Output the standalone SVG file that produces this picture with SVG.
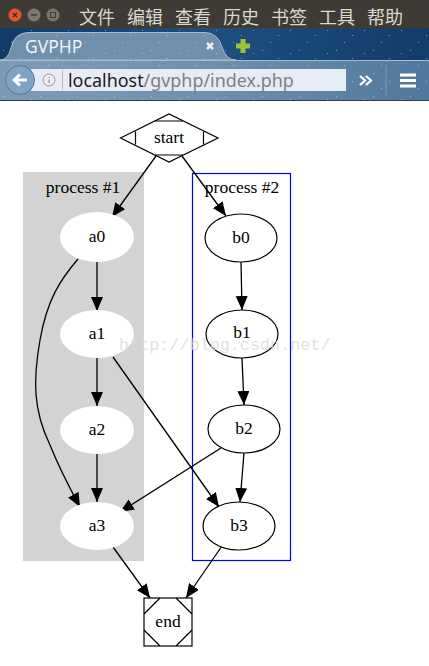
<svg xmlns="http://www.w3.org/2000/svg" width="429" height="666" viewBox="0 0 429 666">
<style>
.g{font-family:"Liberation Serif","Times New Roman",serif;font-size:17.500px;fill:#000;text-anchor:middle}
.n{fill:#fff;stroke:#000;stroke-width:1.200}
.w{fill:#fff;stroke:none}
.s{fill:none;stroke:#000;stroke-width:1.200}
.e{fill:none;stroke:#000;stroke-width:1.300;marker-end:url(#ah)}
.m{font-family:"Noto Sans CJK SC","Noto Sans",sans-serif;font-size:18px;fill:#ded8cc}
</style>
<defs>
<marker id="ah" markerUnits="userSpaceOnUse" markerWidth="15" markerHeight="13" refX="14" refY="6" orient="auto"><path d="M0 0L14 6L0 12Z" fill="#000"/></marker>
<linearGradient id="bg" x1="0" y1="0" x2="1" y2="0"><stop offset="0" stop-color="#123a66"/><stop offset=".5" stop-color="#1d4f80"/><stop offset="1" stop-color="#123c69"/></linearGradient>
<linearGradient id="tb" x1="0" y1="0" x2="1" y2="0"><stop offset="0" stop-color="#7e9bb6"/><stop offset=".5" stop-color="#6c90b0"/><stop offset="1" stop-color="#50789c"/></linearGradient>
<pattern id="stars" width="37" height="23" patternUnits="userSpaceOnUse"><path d="M3 4h1v1h-1zM19 12h1v1h-1zM31 7h1v1h-1zM11 19h1v1h-1z" fill="#d5e3f0" opacity=".55"/></pattern>
</defs>
<rect width="429" height="666" fill="#fff"/>
<g id="browser">
<rect width="429" height="28" fill="#3e3b36"/>
<rect y="28" width="429" height="33" fill="url(#bg)"/>
<path d="M0 60Q8 60 11 48Q14 33 28 32.500L205 32.500Q218 33 222 47Q226 60 236 60Z" fill="#6f8fac" stroke="#a9bccd" stroke-width="1"/>
<rect y="60" width="429" height="40" fill="url(#tb)"/>
<rect y="28" width="429" height="72" fill="url(#stars)"/>
<path d="M0 60.500H429" stroke="#a9bccd"/>
<rect y="100" width="429" height="1" fill="#2b3f52"/>
<circle cx="15" cy="15" r="6.500" fill="#e2562a"/><circle cx="34" cy="15" r="6.500" fill="#7b7870"/><circle cx="53" cy="15" r="6.500" fill="#77746c"/>
<path d="M13 13L17 17M17 13L13 17" stroke="#3e2a20" stroke-width="1.200"/>
<path d="M31 15H37" stroke="#3e3b36" stroke-width="1.500"/>
<rect x="50.500" y="12.500" width="5" height="5" fill="none" stroke="#3e3b36"/>
<text class="m" x="79" y="24">文件</text><text class="m" x="127" y="24">编辑</text><text class="m" x="175" y="24">查看</text><text class="m" x="223" y="24">历史</text><text class="m" x="271" y="24">书签</text><text class="m" x="319" y="24">工具</text><text class="m" x="367" y="24">帮助</text>
<text x="25" y="53" font-family="Noto Sans,sans-serif" font-size="17.500" fill="#f2f2f2">GVPHP</text>
<path d="M207 43L213 49M213 43L207 49" stroke="#eee" stroke-width="2.500"/>
<path d="M243 39V53M236 46H250" stroke="#9fc13a" stroke-width="5"/>
<rect x="31" y="69" width="315" height="22" fill="#e6ecf2"/>
<circle cx="20" cy="80" r="14.500" fill="#7fa3c0" stroke="#54799a"/>
<path d="M27 80H15M20 74.500L14 80L20 85.500" fill="none" stroke="#fff" stroke-width="3"/>
<circle cx="49" cy="80" r="6" fill="none" stroke="#9a9a9a"/>
<path d="M49 77V78M49 79.500V83" stroke="#9a9a9a" stroke-width="1.300"/>
<path d="M62.500 70V90" stroke="#bbb"/>
<text x="68" y="87" font-family="Noto Sans,sans-serif" font-size="17.900"><tspan fill="#1c1c1c">localhost</tspan><tspan fill="#7f7f7f">/gvphp/index.php</tspan></text>
<path d="M360 76L365 80.500L360 85M366 76L371 80.500L366 85" fill="none" stroke="#fff" stroke-width="2.300"/>
<path d="M386 65V95" stroke="#7f9db7"/>
<path d="M400 75H416M400 80.500H416M400 86H416" stroke="#fff" stroke-width="3"/>
</g>
<g id="cluster1"><rect x="23" y="172" width="121" height="389" fill="#d3d3d3"/><text class="g" x="83" y="193">process #1</text></g>
<g id="cluster2"><rect x="192.500" y="173.500" width="98" height="387" fill="none" stroke="#0000ff" stroke-width="1.200"/><text class="g" x="242" y="193">process #2</text></g>
<g id="connectors">
<path class="e" d="M156 156L112 217"/>
<path class="e" d="M182 156L226 216"/>
<path class="e" d="M97 262V311"/>
<path class="e" d="M97 358V406"/>
<path class="e" d="M97 454V502"/>
<path class="e" d="M78 259C60 280 47 300 40 340C33 380 33 410 50 445C58 465 68 485 80 507"/>
<path class="e" d="M113 357L219 507"/>
<path class="e" d="M241 262L242 310"/>
<path class="e" d="M242 358L244 405"/>
<path class="e" d="M244 453L240 502"/>
<path class="e" d="M221 448L120 512"/>
<path class="e" d="M113 547L150 598"/>
<path class="e" d="M222 546L186 598"/>
</g>
<g id="start"><path class="n" d="M120.500 138L169 114L218 138L169 162Z"/><path class="s" d="M155 121H183M135.500 131.500V144.500M203.500 131.500V144.500M155 155H183"/><text class="g" x="169" y="143">start</text></g>
<g id="a0"><ellipse class="w" cx="97" cy="237" rx="37" ry="25"/><text class="g" x="97" y="242">a0</text></g>
<g id="a1"><ellipse class="w" cx="97" cy="334" rx="37" ry="24"/><text class="g" x="97" y="339">a1</text></g>
<g id="a2"><ellipse class="w" cx="97" cy="430" rx="37" ry="24"/><text class="g" x="97" y="435">a2</text></g>
<g id="a3"><ellipse class="w" cx="97" cy="526" rx="37" ry="24"/><text class="g" x="97" y="531">a3</text></g>
<g id="b0"><ellipse class="n" cx="241" cy="238" rx="36" ry="24"/><text class="g" x="241" y="243">b0</text></g>
<g id="b1"><ellipse class="n" cx="242" cy="334" rx="36" ry="24"/><text class="g" x="242" y="338">b1</text></g>
<g id="b2"><ellipse class="n" cx="244" cy="429" rx="36" ry="24"/><text class="g" x="244" y="434">b2</text></g>
<g id="b3"><ellipse class="n" cx="239" cy="526" rx="36" ry="24"/><text class="g" x="239" y="531">b3</text></g>
<g id="end"><rect class="n" x="144" y="598" width="48" height="48"/><path class="s" d="M160 598L144 614M176 598L192 614M144 630L160 646M192 630L176 646"/><text class="g" x="168" y="627">end</text></g>
<text x="119" y="350" font-family="Liberation Mono,monospace" font-size="16.800" fill="#dcdcd4" opacity=".8">http://blog.csdn.net/</text>
</svg>
